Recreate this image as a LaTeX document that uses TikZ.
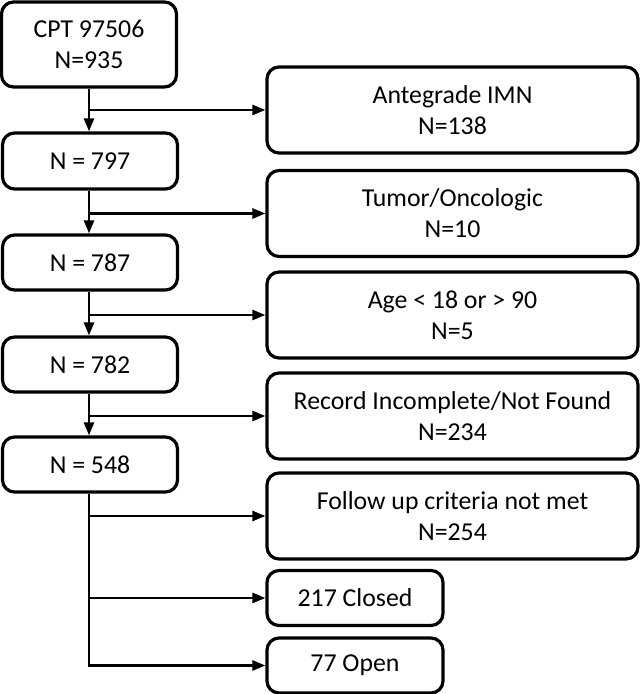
\documentclass[tikz,border=0pt]{standalone}
\usepackage{fontspec}
\setmainfont{Carlito}
\usetikzlibrary{arrows.meta}

\tikzset{
	box/.style={draw, line width=1.6pt, rounded corners=6pt, align=center, inner sep=0pt, font=\fontsize{12.9}{15.6}\selectfont},
	leftbox/.style={box, minimum width=87.5pt},
	rightbox/.style={box, minimum width=185.5pt, minimum height=43pt},
	smallbox/.style={box, minimum width=88pt, minimum height=27.5pt},
	flow/.style={line width=1.3pt, -{Triangle[length=6.5pt,width=5pt]}}
}

\begin{document}
\begin{tikzpicture}[x=0.5pt, y=-0.5pt]
		%%%%% START %%%%%
		\useasboundingbox (0, 0) rectangle (640, 694);
		
		\node[leftbox, minimum height=42.5pt] (cpt) at (89, 44.5) {CPT 97506\\N=935};
		\node[leftbox, minimum height=28pt] (n797) at (90, 161) {N = 797};
		\node[leftbox, minimum height=27.5pt] (n787) at (90, 262.5) {N = 787};
		\node[leftbox, minimum height=27.5pt] (n782) at (90, 364.5) {N = 782};
		\node[leftbox, minimum height=27.5pt] (n548) at (90, 464.5) {N = 548};
		
		\node[rightbox] (imn) at (452.5, 110) {Antegrade IMN\\N=138};
		\node[rightbox] (tumor) at (452.5, 213.5) {Tumor/Oncologic\\N=10};
		\node[rightbox] (age) at (452.5, 315) {Age < 18 or > 90\\N=5};
		\node[rightbox] (record) at (452.5, 416) {Record Incomplete/Not Found\\N=234};
		\node[rightbox] (follow) at (452.5, 516) {Follow up criteria not met\\N=254};
		
		\node[smallbox] (closed) at (355, 598) {217 Closed};
		\node[smallbox] (open) at (355, 665.5) {77 Open};
		
		% main line down
		\draw[flow] (cpt.south) -- (cpt.south |- n797.north);
		\draw[flow] (cpt.south |- n797.south) -- (cpt.south |- n787.north);
		\draw[flow] (cpt.south |- n787.south) -- (cpt.south |- n782.north);
		\draw[flow] (cpt.south |- n782.south) -- (cpt.south |- n548.north);
		\draw[flow] (cpt.south |- n548.south) -- (cpt.south |- open.west) -- (open.west);
		
		% exclusions
		\coordinate (b1) at (cpt.south |- imn.west);
		\coordinate (b2) at (cpt.south |- tumor.west);
		\coordinate (b3) at (cpt.south |- age.west);
		\coordinate (b4) at (cpt.south |- record.west);
		\coordinate (b5) at (cpt.south |- follow.west);
		\coordinate (b6) at (cpt.south |- closed.west);
		\draw[flow] (b1) -- (imn.west);
		\draw[flow] (b2) -- (tumor.west);
		\draw[flow] (b3) -- (age.west);
		\draw[flow] (b4) -- (record.west);
		\draw[flow] (b5) -- (follow.west);
		\draw[flow] (b6) -- (closed.west);
		
		%%%%% END %%%%%
	\end{tikzpicture}
\end{document}
